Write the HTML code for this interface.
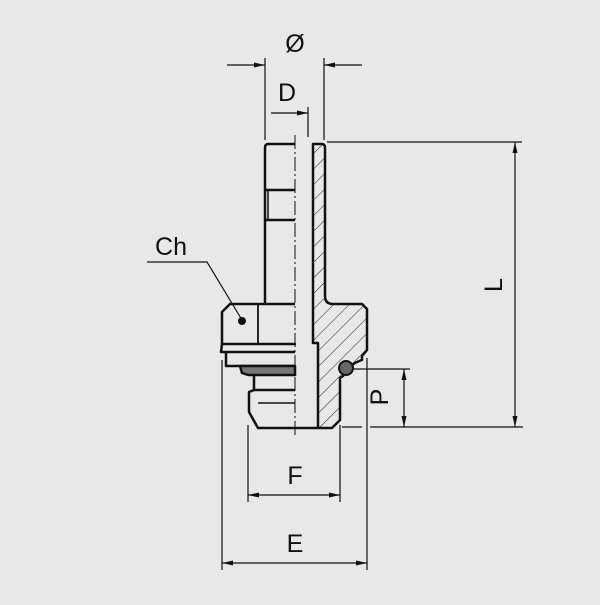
<!DOCTYPE html>
<html><head><style>html,body{margin:0;padding:0;background:#e8e8e8}</style></head>
<body>
<svg width="600" height="600" viewBox="0 0 600 600" xmlns="http://www.w3.org/2000/svg" font-family="Liberation Sans, sans-serif">
<defs>
<marker id="a" viewBox="0 0 10 10" refX="10" refY="5" markerWidth="11" markerHeight="5" markerUnits="userSpaceOnUse" orient="auto-start-reverse" preserveAspectRatio="none"><path d="M0,0 L10,5 L0,10 z" fill="#111"/></marker>
<pattern id="h" patternUnits="userSpaceOnUse" width="11" height="11" patternTransform="rotate(45)"><line x1="0" y1="0" x2="0" y2="11" stroke="#222" stroke-width="1"/></pattern>
</defs>
<rect width="600" height="600" fill="#e8e8e8"/>
<g stroke="#111" stroke-width="1.2" fill="none">
<!-- Ø -->
<line x1="265" y1="58" x2="265" y2="140"/><line x1="324" y1="58" x2="324" y2="140"/>
<line x1="227" y1="65" x2="265" y2="65" marker-end="url(#a)"/>
<line x1="362" y1="65" x2="324" y2="65" marker-end="url(#a)"/>
<!-- D -->
<line x1="308" y1="107" x2="308" y2="137"/>
<line x1="271" y1="113" x2="308" y2="113" marker-end="url(#a)"/>
<!-- L -->
<line x1="327" y1="142" x2="522" y2="142"/>
<line x1="515" y1="142" x2="515" y2="427" marker-start="url(#a)" marker-end="url(#a)"/>
<line x1="370" y1="427" x2="523" y2="427"/>
<!-- P -->
<line x1="350" y1="369" x2="410" y2="369"/>
<line x1="404" y1="369" x2="404" y2="427" marker-start="url(#a)" marker-end="url(#a)"/>
<line x1="342" y1="427" x2="362" y2="427"/>
<!-- E,F -->
<line x1="222" y1="360" x2="222" y2="570"/><line x1="367" y1="358" x2="367" y2="570"/>
<line x1="248" y1="425" x2="248" y2="502"/><line x1="340" y1="425" x2="340" y2="502"/>
<line x1="222" y1="563" x2="367" y2="563" marker-start="url(#a)" marker-end="url(#a)"/>
<line x1="248" y1="495" x2="340" y2="495" marker-start="url(#a)" marker-end="url(#a)"/>
<!-- Ch leader -->
<polyline points="147,262 207,262 242,320"/>
</g>
<!-- hatched section -->
<path d="M313,144 L322,144 Q325,144 325,148 L325,296 Q325,304 333,304 L362,304 L367,309 L367,350 L362,356 L362,360 Q356,362 352,365 L343,376 L340,378 L340,420 L332,428 L318,428 L318,343 L313,343 Z" fill="url(#h)" stroke="#111" stroke-width="2.5" stroke-linejoin="round"/>
<circle cx="346" cy="368" r="7" fill="#666" stroke="#111" stroke-width="2"/>
<!-- left half -->
<g stroke="#111" stroke-width="2.5" fill="none" stroke-linejoin="round">
<path d="M295,144 L268,144 Q265,144 265,148 L265,304"/>
<line x1="265" y1="190" x2="295" y2="190"/><line x1="265" y1="220" x2="295" y2="220"/>
<line x1="268" y1="190" x2="268" y2="220" stroke-width="1.5"/>
<line x1="313" y1="144" x2="313" y2="343" stroke-width="1.8"/>
<path d="M295,304 L258,304 L230,304 L222,312 L222,344 L296,344"/>
<line x1="258" y1="304" x2="258" y2="344" stroke-width="1.8"/>
<path d="M222,344 L221,352 L295,352"/>
<path d="M226,352 L226,366 L295,366"/>
<path d="M240,366 L242,373 L248,375 L295,375 L295,366 Z" fill="#777"/>
<path d="M254,375 L254,390 L295,390"/>
<path d="M254,390 L249,392 L249,412 L258,428 L318,428"/>
<line x1="258" y1="403" x2="295" y2="403" stroke-width="1.5"/>
</g>
<circle cx="242" cy="321" r="4" fill="#111"/>
<line x1="295" y1="135" x2="295" y2="435" stroke="#111" stroke-width="1" stroke-dasharray="14,3,2,3"/>
<g fill="#111" font-size="25">
<text x="295" y="52" text-anchor="middle">Ø</text>
<text x="287" y="101" text-anchor="middle">D</text>
<text x="171" y="255" text-anchor="middle">Ch</text>
<text x="295" y="484" text-anchor="middle">F</text>
<text x="295" y="552" text-anchor="middle">E</text>
<text transform="translate(502,285) rotate(-90)" text-anchor="middle">L</text>
<text transform="translate(388,397) rotate(-90)" text-anchor="middle">P</text>
</g>
</svg>
</body></html>
